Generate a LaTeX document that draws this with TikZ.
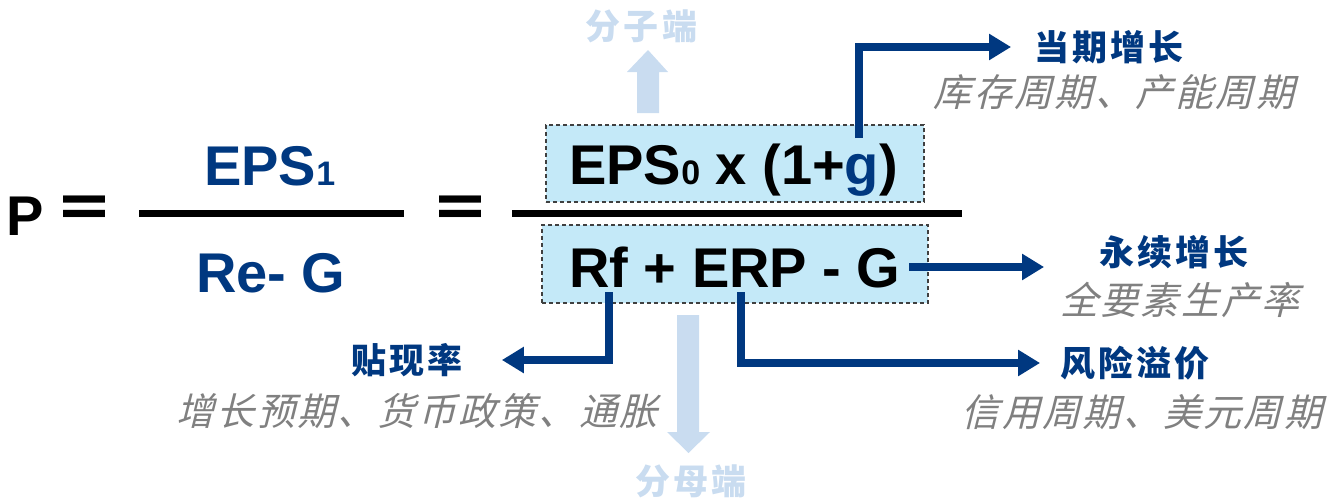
\documentclass[tikz,border=0pt]{standalone}
\usepackage{fontspec}
\usetikzlibrary{arrows.meta}
\setmainfont{Liberation Sans}
\newfontfamily\cjk{Noto Sans CJK SC}
\newfontfamily\cjkhead{Noto Sans CJK SC}[LetterSpace=9]
\newfontfamily\cjknote{Noto Sans CJK SC}[LetterSpace=6,FakeSlant=0.25]
\newcommand\subsz{\fontsize{34}{34}\selectfont}
\definecolor{navy}{RGB}{0,56,128}
\definecolor{boxblue}{RGB}{196,233,248}
\definecolor{pale}{RGB}{201,220,240}
\definecolor{notegray}{RGB}{128,128,128}

\begin{document}
\begin{tikzpicture}[x=1pt,y=-1pt,
    latin/.style={font=\fontsize{56}{60}\selectfont\bfseries, inner sep=0pt},
    eqsign/.style={font=\cjk\bfseries\fontsize{60}{64}\selectfont, inner sep=0pt},
    box/.style={draw=black!75, fill=boxblue, line width=1.2pt, dash pattern=on 4pt off 3pt, inner sep=0pt},
    head/.style={font=\cjkhead\bfseries\fontsize{35}{35}\selectfont, text=navy, inner sep=0pt},
    note/.style={font=\cjknote\fontsize{38}{38}\selectfont, text=notegray, inner sep=0pt},
    side/.style={font=\cjkhead\bfseries\fontsize{35}{35}\selectfont, text=pale, inner sep=0pt},
    bar/.style={line width=7pt},
    flow/.style={draw=navy, line width=7.5pt, -{Triangle[length=22pt,width=25pt]}}]
\useasboundingbox (0,0) rectangle (1341,501);

% left fraction
\node[latin, anchor=base west] (ptext) at (6,235) {P};
\node[eqsign] (eq1) at (84.5,213) {＝};
\node[latin, text=navy, anchor=base west] (eps) at (204,185) {EPS{\subsz 1}};
\node[latin, text=navy, anchor=base west] (reg) at (196,292) {Re- G};
\draw[bar] (139,213.5) -- (404,213.5);
\node[eqsign] (eq2) at (460.5,213) {＝};

% right fraction
\node[box, minimum width=378pt, minimum height=77pt] (numbox) at (735,163.5) {};
\node[box, minimum width=386pt, minimum height=78pt] (denbox) at (735,264) {};
\node[latin, anchor=base west] (numtext) at (569,184) {EPS{\subsz 0} x (1+\textcolor{navy}{g})};
\node[latin, anchor=base west] (dentext) at (569,287) {Rf + ERP - G};
\draw[bar] (512,213.5) -- (962,213.5);

% numerator / denominator hints
\fill[pale] (637,113) -- (637,72) -- (627,72) -- (648,50) -- (668,72) -- (659,72) -- (659,113) -- cycle;
\fill[pale] (677,315) -- (677,432) -- (667,432) -- (688.5,453) -- (710,432) -- (699,432) -- (699,315) -- cycle;
\node[side] (fenzi) at (641.5,26.5) {分子端};
\node[side] (fenmu) at (691,481) {分母端};

% drivers
\node[head] (dangqi) at (1109,47) {当期增长};
\node[note] (kucun) at (1114,92) {库存周期、产能周期};
\node[head] (yongxu) at (1174,252) {永续增长};
\node[note] (quanyao) at (1180,300) {全要素生产率};
\node[head] (fengxian) at (1135,363) {风险溢价};
\node[note] (xinyong) at (1142,412) {信用周期、美元周期};
\node[head] (tiexian) at (407,360) {贴现率};
\node[note] (zengzhang) at (417,411) {增长预期、货币政策、通胀};

\coordinate (gtop) at (859,138);
\coordinate (gend) at (909,267);
\coordinate (rfbot) at (609,292);
\coordinate (erpbot) at (741,292);
\draw[flow, shorten >=23pt] (gtop) |- (dangqi.west);
\draw[flow, shorten >=55pt] (gend) -- (gend -| yongxu.west);
\draw[flow, shorten >=20pt] (erpbot) |- (fengxian.west);
\draw[flow, shorten >=39pt] (rfbot) |- (tiexian.east);
\end{tikzpicture}
\end{document}
